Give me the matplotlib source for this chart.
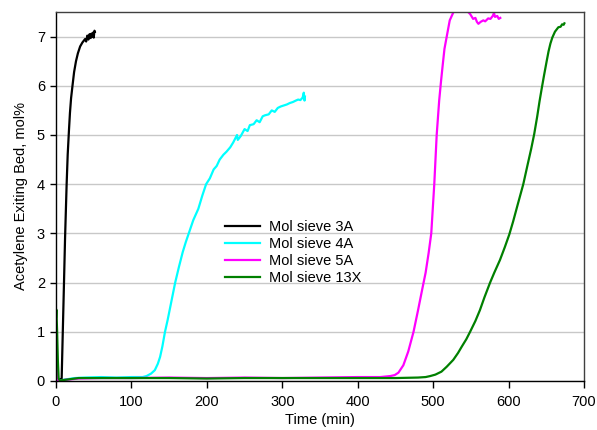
import numpy as np
import matplotlib
matplotlib.use('Agg')
import matplotlib.pyplot as plt

plt.rcParams['font.family'] = ['Liberation Sans', 'DejaVu Sans']
plt.rcParams['font.size'] = 10.5

# breakthrough curves, (time in min, acetylene mol%)
sieve_3a = [(5, 0.03), (7.5, 0.05), (9, 1.0), (10.6, 2.0), (12, 2.9), (14.1, 4.0),
            (15.5, 4.6), (17.2, 5.1), (18.5, 5.45), (20, 5.75), (22, 6.02), (24, 6.28),
            (26.5, 6.5), (29, 6.66), (32, 6.8), (35, 6.88), (38.5, 6.95), (40, 6.9),
            (41.5, 7.02), (43, 6.94), (44.5, 7.05), (46, 6.97), (47, 7.06), (48, 7.0),
            (49, 7.08), (50, 6.98), (51, 7.12), (51.5, 7.1)]

sieve_4a = [(0, 0.0), (0.7, 0.45), (1.5, 0.25), (3, 0.02), (6, 0.01), (12, 0.03),
            (25, 0.06), (40, 0.07), (60, 0.08), (80, 0.07), (100, 0.08), (115, 0.08),
            (120, 0.1), (126, 0.15), (131, 0.22), (135, 0.35), (138, 0.49), (141, 0.7),
            (144.5, 1.0), (148, 1.24), (153, 1.62), (158, 2.0), (163, 2.32), (168, 2.62),
            (172, 2.82), (176, 3.0), (182, 3.27), (188.7, 3.5), (194, 3.77), (199, 4.0),
            (204, 4.12), (209, 4.3), (213, 4.37), (217, 4.5), (222, 4.6), (226, 4.66),
            (231, 4.75), (235, 4.85), (240, 5.0), (241, 4.9), (245, 4.98), (250, 5.12),
            (254, 5.08), (257, 5.2), (262, 5.22), (266, 5.3), (270, 5.26), (274, 5.38),
            (277, 5.4), (282, 5.42), (286, 5.5), (290, 5.47), (294, 5.55), (298, 5.58),
            (302, 5.6), (306, 5.62), (310, 5.65), (314, 5.67), (318, 5.7), (321, 5.72),
            (324, 5.71), (327, 5.76), (328.5, 5.86), (329.5, 5.7), (330, 5.78)]

sieve_5a = [(0, 0.0), (0.4, 1.0), (1.2, 0.3), (3, 0.0), (5, -0.01), (10, 0.02),
            (30, 0.05), (60, 0.06), (100, 0.06), (150, 0.07), (200, 0.06), (250, 0.07),
            (300, 0.06), (350, 0.07), (400, 0.08), (430, 0.08), (443, 0.1), (449, 0.12),
            (454, 0.17), (460.5, 0.32), (467, 0.6), (474, 1.0), (480, 1.44), (486, 1.9),
            (490, 2.2), (494, 2.6), (497.5, 3.0), (501.5, 4.0), (504.7, 5.0), (508, 5.7),
            (510.5, 6.1), (512.6, 6.41), (515, 6.75), (518, 7.0), (522, 7.33), (527, 7.5),
            (531, 7.6), (535, 7.65), (539, 7.6), (542, 7.5), (545, 7.52), (549, 7.46),
            (553, 7.36), (556, 7.38), (558, 7.3), (560, 7.26), (563, 7.3), (566.5, 7.33),
            (569, 7.31), (573, 7.37), (576, 7.36), (579, 7.42), (580.7, 7.48),
            (582, 7.4), (585, 7.42), (587, 7.36), (589, 7.38)]

sieve_13x = [(0, 1.3), (0.5, 1.45), (1.5, 1.0), (2.5, 0.4), (3.5, 0.05), (5, 0.01),
             (10, 0.02), (20, 0.04), (30, 0.06), (50, 0.06), (100, 0.06), (150, 0.06),
             (200, 0.05), (250, 0.06), (300, 0.06), (350, 0.06), (400, 0.06),
             (450, 0.06), (480, 0.07), (490, 0.08), (496, 0.1), (503, 0.13), (511, 0.19),
             (518, 0.29), (526.7, 0.43), (533, 0.57), (538, 0.7), (544, 0.85),
             (549, 1.0), (556, 1.22), (562, 1.44), (568, 1.7), (575.5, 2.0),
             (581, 2.2), (588.6, 2.46), (595, 2.72), (601, 2.98), (606, 3.24),
             (612, 3.58), (619.5, 4.0), (625, 4.38), (630, 4.72), (634, 5.02),
             (638, 5.38), (641, 5.68), (644, 5.95), (647, 6.21), (650.5, 6.5),
             (653, 6.7), (655.5, 6.86), (658, 6.98), (661.5, 7.1), (664, 7.15),
             (666, 7.19), (669, 7.2), (671, 7.25), (673, 7.24), (674, 7.27)]

series_names = ['Mol sieve 3A', 'Mol sieve 4A', 'Mol sieve 5A', 'Mol sieve 13X']
series_colors = ['#000000', '#00ffff', '#ff00ff', '#008000']

figureWidth = 5.97
figureHeight = 4.30
fig = plt.figure(figsize=(figureWidth, figureHeight), dpi=100)

# panel placed in pixel units
ax = plt.axes([56/597, 49/430, 528/597, 369/430])

for data, name, color in zip([sieve_3a, sieve_4a, sieve_5a, sieve_13x],
                             series_names, series_colors):
    arr = np.array(data)
    ax.plot(arr[:, 0], arr[:, 1], color=color, linewidth=1.6, label=name,
            solid_joinstyle='round')

ax.set_xlim(0, 700)
ax.set_ylim(0, 7.5)
ax.set_xticks(np.arange(0, 701, 100))
ax.set_yticks(np.arange(0, 8, 1))

ax.yaxis.grid(True, color='#c8c8c8', linewidth=1.0)
ax.set_axisbelow(True)

ax.tick_params(axis='x', direction='out', length=5, width=1, pad=5)
ax.tick_params(axis='y', direction='out', length=4, width=1, pad=4)

for side in ['left', 'bottom']:
    ax.spines[side].set_color('black')
    ax.spines[side].set_linewidth(1.0)
for side in ['top', 'right']:
    ax.spines[side].set_color('#404040')
    ax.spines[side].set_linewidth(1.0)

ax.set_xlabel('Time (min)', labelpad=3)
ax.set_ylabel('Acetylene Exiting Bed, mol%', labelpad=6)

ax.legend(loc='upper left', bbox_to_anchor=(0.32, 0.435), frameon=False,
          handlelength=2.4, handletextpad=0.6, labelspacing=0.2,
          borderpad=0, borderaxespad=0)

plt.savefig('out.png', dpi=100)
